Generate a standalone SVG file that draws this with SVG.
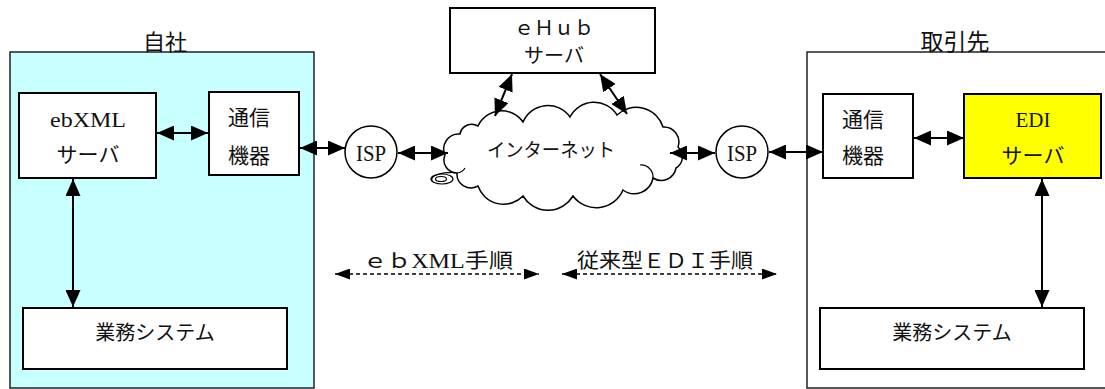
<svg xmlns="http://www.w3.org/2000/svg" width="1105" height="389" viewBox="0 0 1105 389">
<style>
text{font-family:"Liberation Serif","Noto Sans CJK JP",serif;fill:#111;}
.box{fill:#fff;stroke:#000;stroke-width:2;}
.org{stroke:#222;stroke-width:1.5;}
.c{text-anchor:middle;}
.con{stroke:#000;stroke-width:2;fill:none;}
.dash{stroke:#000;stroke-width:1.5;fill:none;stroke-dasharray:4 3;}
</style>
<defs>
<marker id="ah" viewBox="0 0 17 15" refX="17" refY="7.5" markerWidth="17" markerHeight="15" markerUnits="userSpaceOnUse" orient="auto-start-reverse"><path d="M0,0 L17,7.5 L0,15 z" fill="#000"/></marker>
<marker id="ah2" viewBox="0 0 15 11" refX="15" refY="5.5" markerWidth="15" markerHeight="11" markerUnits="userSpaceOnUse" orient="auto-start-reverse"><path d="M0,0 L15,5.5 L0,11 z" fill="#000"/></marker>
</defs>
<rect width="1105" height="389" fill="#fff"/>

<g id="own-company">
<rect class="org" x="10" y="52" width="304" height="336" fill="#C8FFFF"/>
<text class="c" x="165" y="50" font-size="22">自社</text>
</g>
<g id="partner">
<rect class="org" x="807" y="52" width="310" height="336" fill="#fff"/>
<text class="c" x="955" y="50" font-size="23">取引先</text>
</g>

<g id="ebxml-server">
<rect class="box" x="19" y="93" width="137" height="85"/>
<text class="c" x="88" y="127" font-size="21" textLength="76" lengthAdjust="spacingAndGlyphs">ebXML</text>
<text class="c" x="88" y="162" font-size="21">サーバ</text>
</g>
<g id="comm-left">
<rect class="box" x="209" y="92" width="90" height="83"/>
<text x="228" y="125" font-size="21">通信</text>
<text x="228" y="163" font-size="21">機器</text>
</g>
<g id="biz-left">
<rect class="box" x="23" y="308" width="264" height="61"/>
<text class="c" x="155" y="340" font-size="20">業務システム</text>
</g>
<g id="isp-left">
<circle cx="371" cy="152" r="26" fill="#fff" stroke="#000" stroke-width="1.5"/>
<text class="c" x="371" y="161" font-size="24" textLength="30" lengthAdjust="spacingAndGlyphs">ISP</text>
</g>
<g id="ehub-server">
<rect class="box" x="450" y="8" width="205" height="65"/>
<text class="c" x="554" y="35" font-size="20">ｅＨｕｂ</text>
<text class="c" x="554" y="63" font-size="20">サーバ</text>
</g>
<g id="internet">
<path d="M432,181 C429,173 455,169 471,176 C475,180 474,183 469,185 L481,182" fill="#fff" stroke="#000" stroke-width="1.2"/>
<ellipse cx="442" cy="179" rx="11" ry="5" fill="none" stroke="#000" stroke-width="1.2"/>
<ellipse cx="441" cy="179" rx="5.5" ry="2.5" fill="none" stroke="#000" stroke-width="1.2"/>
<path d="M445,155 A15,15 0 0 1 460,134 A12,12 0 0 1 478,126 A26,26 0 0 1 523,122 A27,27 0 0 1 570,117 A27,27 0 0 1 617,115 A28,28 0 0 1 663,127 A15,15 0 0 1 678,147 A13,13 0 0 1 676,168 A15,15 0 0 1 653,178 A19,19 0 0 1 623,190 A29,29 0 0 1 573,196 A29,29 0 0 1 523,196 A27,27 0 0 1 478,186 A14,14 0 0 1 457,173 A13,13 0 0 1 445,155 Z" fill="#fff" stroke="#000" stroke-width="1.5"/>
<path d="M653,178 A12,12 0 0 0 640,165 M457,173 A10,10 0 0 0 465,168" fill="none" stroke="#000" stroke-width="1.2"/>
<text class="c" x="551" y="157" font-size="19" textLength="128" lengthAdjust="spacingAndGlyphs">インターネット</text>
</g>
<g id="isp-right">
<circle cx="742" cy="152" r="26" fill="#fff" stroke="#000" stroke-width="1.5"/>
<text class="c" x="742" y="161" font-size="24" textLength="30" lengthAdjust="spacingAndGlyphs">ISP</text>
</g>
<g id="comm-right">
<rect class="box" x="823" y="94" width="90" height="84"/>
<text x="842" y="127" font-size="21">通信</text>
<text x="842" y="163" font-size="21">機器</text>
</g>
<g id="edi-server">
<rect class="box" x="964" y="94" width="137" height="84" style="fill:#FFFF00"/>
<text class="c" x="1033" y="127" font-size="21">EDI</text>
<text class="c" x="1033" y="163" font-size="21">サーバ</text>
</g>
<g id="biz-right">
<rect class="box" x="820" y="308" width="264" height="61"/>
<text class="c" x="952" y="340" font-size="20">業務システム</text>
</g>

<g id="connectors" marker-start="url(#ah)" marker-end="url(#ah)">
<line class="con" x1="157" y1="133" x2="208" y2="133"/>
<line class="con" x1="300" y1="148" x2="345" y2="148"/>
<line class="con" x1="73" y1="179" x2="73" y2="307"/>
<line class="con" x1="398" y1="153" x2="448" y2="153"/>
<line class="con" x1="512" y1="74" x2="495" y2="116"/>
<line class="con" x1="600" y1="74" x2="627" y2="114"/>
<line class="con" x1="670" y1="153" x2="715" y2="153"/>
<line class="con" x1="769" y1="152" x2="823" y2="152"/>
<line class="con" x1="914" y1="138" x2="964" y2="138"/>
<line class="con" x1="1042" y1="179" x2="1042" y2="307"/>
<line class="dash" x1="335" y1="274" x2="539" y2="274" marker-start="url(#ah2)" marker-end="url(#ah2)"/>
<line class="dash" x1="562" y1="274" x2="777" y2="274" marker-start="url(#ah2)" marker-end="url(#ah2)"/>
</g>
<g id="labels">
<text x="363" y="268" font-size="20" textLength="150" lengthAdjust="spacingAndGlyphs">ｅｂXML手順</text>
<text x="577" y="268" font-size="20" textLength="176" lengthAdjust="spacingAndGlyphs">従来型ＥＤＩ手順</text>
</g>
</svg>
